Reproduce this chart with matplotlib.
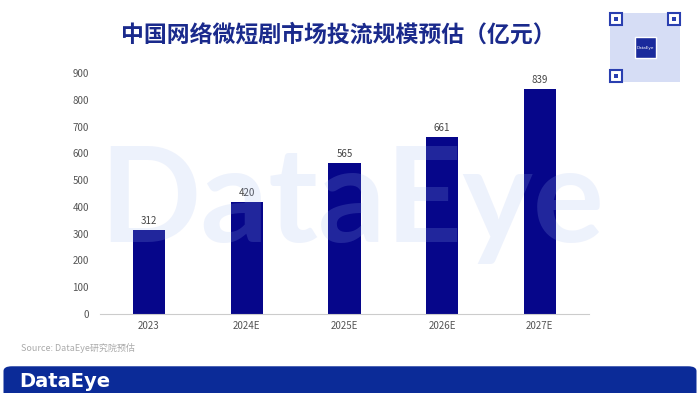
import matplotlib.pyplot as plt
from matplotlib.patches import FancyBboxPatch, Rectangle

plt.rcParams['font.family'] = ['Noto Sans CJK SC', 'DejaVu Sans']

years = ['2023', '2024E', '2025E', '2026E', '2027E']
values = [312, 420, 565, 661, 839]
yticks = [0, 100, 200, 300, 400, 500, 600, 700, 800, 900]

navy = '#06068a'
fig = plt.figure(figsize=(7, 3.93), dpi=100)
fig.patch.set_facecolor('white')

ax = fig.add_axes([0.143, 0.201, 0.698, 0.613])
ax.patch.set_alpha(0)
x = range(len(years))
ax.bar(x, values, width=0.33, color=navy, zorder=2)
for xi, v in zip(x, values):
    ax.text(xi, v + 15, str(v), ha='center', va='bottom', fontsize=7, color='#444444')

ax.set_xlim(-0.5, len(years) - 0.5)
ax.set_ylim(0, 900)
ax.set_yticks(yticks)
ax.set_xticks(list(x))
ax.set_xticklabels(years)
ax.tick_params(axis='both', length=0, labelsize=7, colors='#555555')
ax.tick_params(axis='y', pad=8)
ax.tick_params(axis='x', pad=5)
for s in ['top', 'right', 'left']:
    ax.spines[s].set_visible(False)
ax.spines['bottom'].set_color('#cccccc')
ax.spines['bottom'].set_linewidth(0.8)

# watermark, semi-transparent over the bars
wm = fig.text(0.503, 0.384, 'DataEye', fontsize=96, fontweight='bold', color='#a0b8f0',
              alpha=0.18, ha='center', va='baseline', family='Lato')
wm.set_zorder(5)

fig.text(0.483, 0.91, '中国网络微短剧市场投流规模预估（亿元）', fontsize=16.5, fontweight='bold',
         color='#1a2a8c', ha='center', va='center')

fig.text(0.03, 0.115, 'Source: DataEye研究院预估', fontsize=6.5, color='#aaaaaa',
         ha='left', va='center')

# bottom band
band = FancyBboxPatch((0.005, -0.05), 0.99, 0.118, boxstyle='round,pad=0,rounding_size=0.012',
                      transform=fig.transFigure, facecolor='#0b2b98', edgecolor='none')
fig.patches.append(band)
fig.text(0.028, 0.03, 'DataEye', fontsize=14, color='white', fontweight='bold',
         ha='left', va='center', family='DejaVu Sans')

# QR code placeholder
qx, qy, qw, qh = 610 / 700, 1 - 82 / 393, 70 / 700, 69 / 393
fig.patches.append(Rectangle((qx, qy), qw, qh, transform=fig.transFigure,
                             facecolor='#d6ddf5', edgecolor='none'))
fw, fh = 12 / 700, 12 / 393
for cx, cy in [(qx, qy), (qx, qy + qh - fh), (qx + qw - fw, qy + qh - fh)]:
    fig.patches.append(Rectangle((cx, cy), fw, fh, transform=fig.transFigure,
                                 facecolor='white', edgecolor='#2a3fb0', linewidth=1.5))
    fig.patches.append(Rectangle((cx + fw * 0.3, cy + fh * 0.3), fw * 0.4, fh * 0.4,
                                 transform=fig.transFigure, facecolor='#2a3fb0', edgecolor='none'))
fig.patches.append(Rectangle((qx + qw * 0.35, qy + qh * 0.35), qw * 0.3, qh * 0.3,
                             transform=fig.transFigure, facecolor='#1a2a9c', edgecolor='white'))
fig.text(qx + qw / 2, qy + qh / 2, 'DataEye', fontsize=3, color='white', ha='center', va='center',
         family='DejaVu Sans')

fig.savefig('out.png', dpi=100)
